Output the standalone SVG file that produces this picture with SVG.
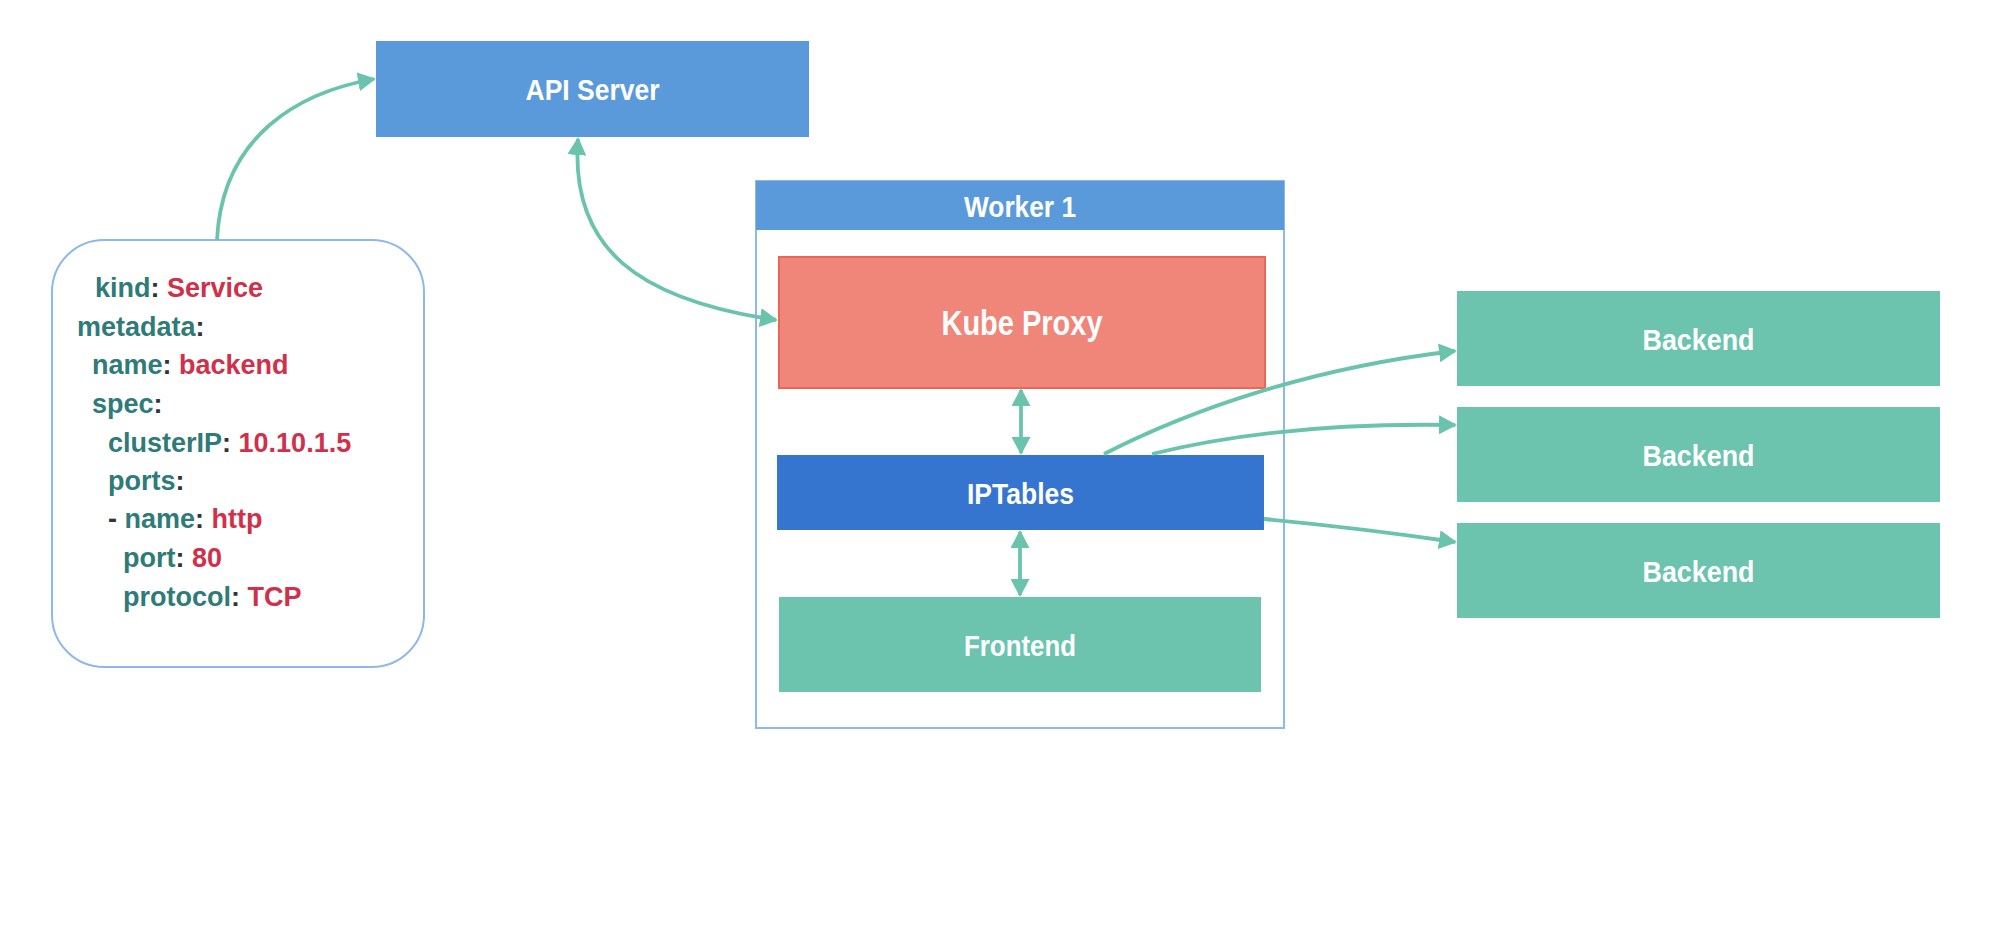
<svg xmlns="http://www.w3.org/2000/svg" width="2000" height="927" viewBox="0 0 2000 927">
<style>
.lbl{font-family:"Liberation Sans",Arial,sans-serif;font-weight:bold;fill:#ffffff;text-anchor:middle}
.y{font-family:"Liberation Sans",Arial,sans-serif;font-weight:bold;font-size:27px}
.k{fill:#2e7b78}
.c{fill:#333333}
.v{fill:#d0304a}
.conn{fill:none;stroke:#6ac3ac;stroke-width:3.8}
.blue{fill:#5a9adb}
.green{fill:#6cc4af}
</style>
<defs>
<marker id="ah" viewBox="0 0 18 19" markerUnits="userSpaceOnUse" markerWidth="18" markerHeight="19" refX="16" refY="9.5" orient="auto-start-reverse">
<path d="M0,0 L18,9.5 L0,19 z" fill="#6ac3ac"/>
</marker>
</defs>
<rect width="2000" height="927" fill="#ffffff"/>

<g id="yaml">
<rect x="52" y="240" width="372" height="427" rx="52" ry="52" fill="#ffffff" stroke="#8db8e8" stroke-width="2"/>
<text class="y" x="95" y="297"><tspan class="k">kind</tspan><tspan class="c">: </tspan><tspan class="v">Service</tspan></text>
<text class="y" x="77" y="336"><tspan class="k">metadata</tspan><tspan class="c">:</tspan></text>
<text class="y" x="92" y="374"><tspan class="k">name</tspan><tspan class="c">: </tspan><tspan class="v">backend</tspan></text>
<text class="y" x="92" y="413"><tspan class="k">spec</tspan><tspan class="c">:</tspan></text>
<text class="y" x="108" y="452"><tspan class="k">clusterIP</tspan><tspan class="c">: </tspan><tspan class="v">10.10.1.5</tspan></text>
<text class="y" x="108" y="490"><tspan class="k">ports</tspan><tspan class="c">:</tspan></text>
<text class="y" x="108" y="528"><tspan class="c">- </tspan><tspan class="k">name</tspan><tspan class="c">: </tspan><tspan class="v">http</tspan></text>
<text class="y" x="123" y="567"><tspan class="k">port</tspan><tspan class="c">: </tspan><tspan class="v">80</tspan></text>
<text class="y" x="123" y="606"><tspan class="k">protocol</tspan><tspan class="c">: </tspan><tspan class="v">TCP</tspan></text>
</g>

<g id="api-server">
<rect class="blue" x="376" y="41" width="433" height="96"/>
<text class="lbl" x="592.5" y="100" font-size="30" textLength="134" lengthAdjust="spacingAndGlyphs">API Server</text>
</g>

<g id="worker1">
<rect x="756" y="181" width="528" height="547" fill="#ffffff" stroke="#8db8e8" stroke-width="2"/>
<rect class="blue" x="756" y="181" width="528" height="49"/>
<text class="lbl" x="1020" y="216.5" font-size="29" textLength="112" lengthAdjust="spacingAndGlyphs">Worker 1</text>
</g>

<g id="kube-proxy">
<rect x="779" y="257" width="486" height="131" fill="#f0857a" stroke="#ec6555" stroke-width="2"/>
<text class="lbl" x="1022" y="335" font-size="35" textLength="161" lengthAdjust="spacingAndGlyphs">Kube Proxy</text>
</g>

<g id="iptables">
<rect x="777" y="455" width="487" height="75" fill="#3575cf"/>
<text class="lbl" x="1020.5" y="503.5" font-size="30" textLength="107" lengthAdjust="spacingAndGlyphs">IPTables</text>
</g>

<g id="frontend">
<rect class="green" x="779" y="597" width="482" height="95"/>
<text class="lbl" x="1020" y="656" font-size="30" textLength="112" lengthAdjust="spacingAndGlyphs">Frontend</text>
</g>

<g id="backend1">
<rect class="green" x="1457" y="291" width="483" height="95"/>
<text class="lbl" x="1698.5" y="350" font-size="30" textLength="112" lengthAdjust="spacingAndGlyphs">Backend</text>
</g>
<g id="backend2">
<rect class="green" x="1457" y="407" width="483" height="95"/>
<text class="lbl" x="1698.5" y="466" font-size="30" textLength="112" lengthAdjust="spacingAndGlyphs">Backend</text>
</g>
<g id="backend3">
<rect class="green" x="1457" y="523" width="483" height="95"/>
<text class="lbl" x="1698.5" y="582" font-size="30" textLength="112" lengthAdjust="spacingAndGlyphs">Backend</text>
</g>

<g id="connectors">
<path class="conn" d="M217,240 C222,135 300,92 374,79" marker-end="url(#ah)"/>
<path class="conn" d="M578,139 C570,250 640,300 776,320" marker-start="url(#ah)" marker-end="url(#ah)"/>
<path class="conn" d="M1021,390 L1021,453" marker-start="url(#ah)" marker-end="url(#ah)"/>
<path class="conn" d="M1020,532 L1020,595" marker-start="url(#ah)" marker-end="url(#ah)"/>
<path class="conn" d="M1104,454 C1190,410 1310,368 1455,351" marker-end="url(#ah)"/>
<path class="conn" d="M1152,454 Q1280,422 1455,425" marker-end="url(#ah)"/>
<path class="conn" d="M1264,519 Q1360,528 1455,542" marker-end="url(#ah)"/>
</g>
</svg>
